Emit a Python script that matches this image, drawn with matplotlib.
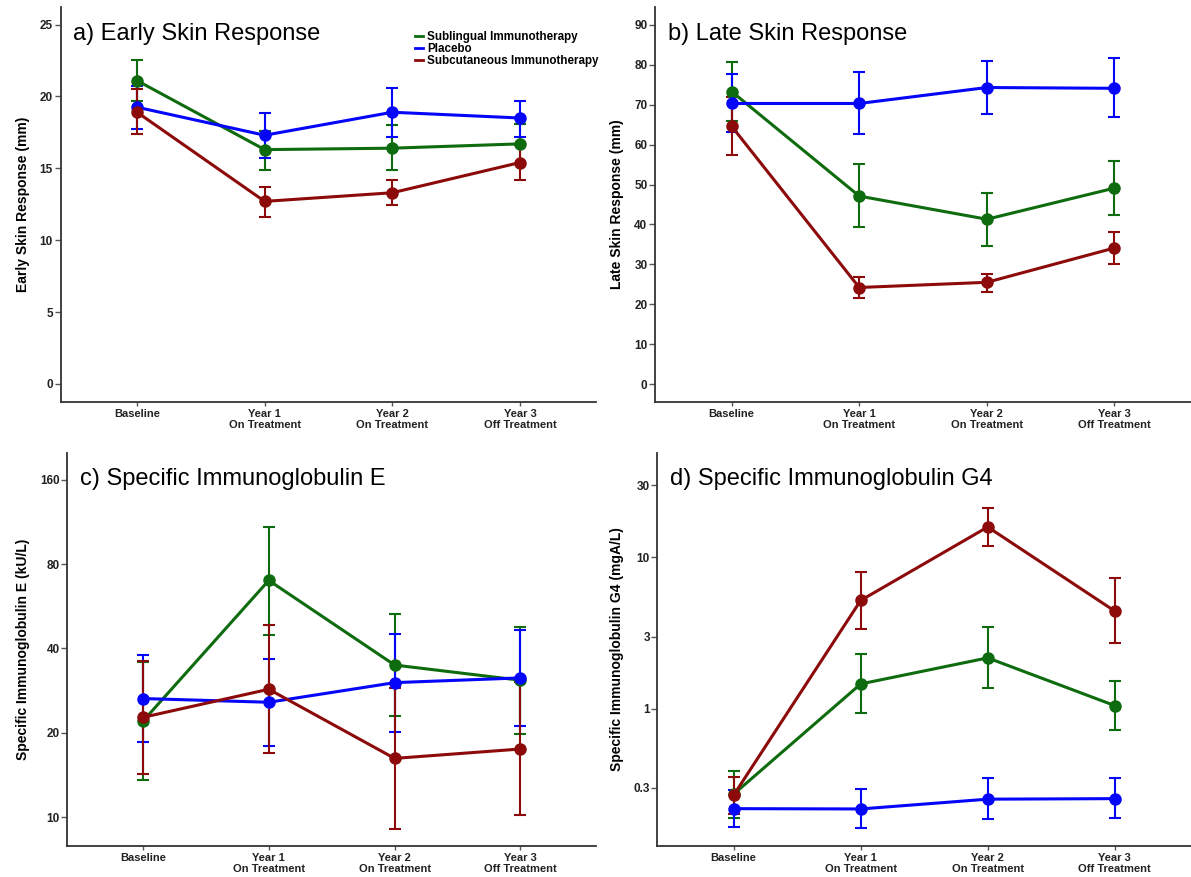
import matplotlib
matplotlib.use('Agg')
import matplotlib.pyplot as plt
import numpy as np

plt.rcParams['font.family'] = ['Liberation Sans', 'DejaVu Sans']

# categories on the x axis
timepoints = ['Baseline', 'Year 1\nOn Treatment', 'Year 2\nOn Treatment', 'Year 3\nOff Treatment']
groups = ['Sublingual Immunotherapy', 'Placebo', 'Subcutaneous Immunotherapy']

# a) early skin response (mm): mean, lower, upper
early_slit = [21.1, 16.3, 16.4, 16.7]
early_slit_lo = [19.7, 14.9, 14.85, 15.3]
early_slit_hi = [22.5, 17.6, 18.0, 18.05]
early_plac = [19.25, 17.3, 18.9, 18.5]
early_plac_lo = [17.75, 15.7, 17.15, 17.2]
early_plac_hi = [20.7, 18.85, 20.6, 19.7]
early_scit = [18.9, 12.7, 13.3, 15.4]
early_scit_lo = [17.4, 11.6, 12.45, 14.2]
early_scit_hi = [20.5, 13.7, 14.2, 16.6]

# b) late skin response (mm)
late_slit = [73.3, 47.1, 41.3, 49.1]
late_slit_lo = [65.9, 39.3, 34.6, 42.4]
late_slit_hi = [80.7, 55.1, 47.9, 56.0]
late_plac = [70.3, 70.3, 74.3, 74.1]
late_plac_lo = [63.1, 62.7, 67.7, 66.8]
late_plac_hi = [77.8, 78.1, 81.0, 81.6]
late_scit = [64.6, 24.2, 25.5, 34.1]
late_scit_lo = [57.4, 21.6, 23.1, 30.2]
late_scit_hi = [71.9, 26.8, 27.6, 38.1]

# c) specific IgE (kU/L)
ige_slit = [22.0, 70.0, 34.9, 30.8]
ige_slit_lo = [13.6, 44.8, 22.9, 19.8]
ige_slit_hi = [35.8, 108.7, 53.3, 47.8]
ige_plac = [26.5, 25.7, 30.2, 31.4]
ige_plac_lo = [18.6, 18.0, 20.2, 21.2]
ige_plac_hi = [37.8, 36.7, 45.0, 46.5]
ige_scit = [22.7, 28.6, 16.2, 17.5]
ige_scit_lo = [14.3, 16.9, 9.1, 10.2]
ige_scit_hi = [36.0, 48.5, 28.8, 30.3]

# d) specific IgG4 (mgA/L)
igg4_slit = [0.273, 1.46, 2.17, 1.05]
igg4_slit_lo = [0.191, 0.932, 1.37, 0.723]
igg4_slit_hi = [0.389, 2.29, 3.45, 1.53]
igg4_plac = [0.219, 0.218, 0.253, 0.255]
igg4_plac_lo = [0.166, 0.162, 0.187, 0.19]
igg4_plac_hi = [0.290, 0.296, 0.347, 0.347]
igg4_scit = [0.269, 5.2, 15.9, 4.42]
igg4_scit_lo = [0.203, 3.35, 11.9, 2.73]
igg4_scit_hi = [0.355, 8.04, 21.2, 7.26]

colors = ['#0e6b0e', '#0505fa', '#8c0a0a']

fig = plt.figure(figsize=(11.91, 8.77), dpi=100)

def panel(rect, title, ylabel, series, ylim, yticks, yticklabels, log=False, legend=False):
    ax = fig.add_axes(rect)
    x = np.arange(len(timepoints))
    for (m, lo, hi), c, name in zip(series, colors, groups):
        m = np.array(m); lo = np.array(lo); hi = np.array(hi)
        ax.errorbar(x, m, yerr=[m - lo, hi - m], color=c, lw=2.2, marker='o', ms=8,
                    elinewidth=1.5, capsize=4.5, capthick=1.5, label=name)
    if log:
        ax.set_yscale('log')
        ax.minorticks_off()
    ax.set_ylim(*ylim)
    ax.set_yticks(yticks)
    ax.set_yticklabels(yticklabels)
    ax.set_xlim(-0.6, 3.6)
    ax.set_xticks(x)
    ax.set_xticklabels(timepoints, linespacing=1.15)
    for s in ['top', 'right']:
        ax.spines[s].set_visible(False)
    for s in ['left', 'bottom']:
        ax.spines[s].set_linewidth(1.3)
        ax.spines[s].set_color('#333333')
    ax.tick_params(axis='y', labelsize=8.5, length=4, width=1, color='#555555', pad=1.5)
    ax.tick_params(axis='x', labelsize=8, length=3, width=1, color='#555555', pad=2)
    for lab in ax.get_xticklabels() + ax.get_yticklabels():
        lab.set_fontweight('bold')
        lab.set_color('#222222')
    ax.set_ylabel(ylabel, fontsize=10, fontweight='bold', labelpad=7)
    ax.text(0.024, 0.932, title, transform=ax.transAxes, fontsize=17, va='center', ha='left')
    if legend:
        h, l = ax.get_legend_handles_labels()
        h = [plt.Line2D([], [], color=c, lw=2) for c in colors]
        ax.legend(h, l, loc='upper left', bbox_to_anchor=(0.662, 0.94), frameon=False,
                  borderaxespad=0, borderpad=0,
                  handlelength=0.7, handletextpad=0.3, labelspacing=0.0,
                  prop={'weight': 'bold', 'size': 8.4})
    return ax

panel([0.0508, 0.542, 0.450, 0.4497], 'a) Early Skin Response', 'Early Skin Response (mm)',
      [(early_slit, early_slit_lo, early_slit_hi), (early_plac, early_plac_lo, early_plac_hi),
       (early_scit, early_scit_lo, early_scit_hi)],
      (-1.23, 26.2), [0, 5, 10, 15, 20, 25], ['0', '5', '10', '15', '20', '25'], legend=True)

panel([0.550, 0.542, 0.450, 0.4497], 'b) Late Skin Response', 'Late Skin Response (mm)',
      [(late_slit, late_slit_lo, late_slit_hi), (late_plac, late_plac_lo, late_plac_hi),
       (late_scit, late_scit_lo, late_scit_hi)],
      (-4.4, 94.4), list(range(0, 100, 10)), [str(v) for v in range(0, 100, 10)])

panel([0.0566, 0.0353, 0.4438, 0.4485], 'c) Specific Immunoglobulin E', 'Specific Immunoglobulin E (kU/L)',
      [(ige_slit, ige_slit_lo, ige_slit_hi), (ige_plac, ige_plac_lo, ige_plac_hi),
       (ige_scit, ige_scit_lo, ige_scit_hi)],
      (7.88, 200), [10, 20, 40, 80, 160], ['10', '20', '40', '80', '160'], log=True)

panel([0.552, 0.0353, 0.448, 0.4485], 'd) Specific Immunoglobulin G4', 'Specific Immunoglobulin G4 (mgA/L)',
      [(igg4_slit, igg4_slit_lo, igg4_slit_hi), (igg4_plac, igg4_plac_lo, igg4_plac_hi),
       (igg4_scit, igg4_scit_lo, igg4_scit_hi)],
      (0.124, 49.2), [0.3, 1, 3, 10, 30], ['0.3', '1', '3', '10', '30'], log=True)

fig.savefig('out.png', dpi=100)
